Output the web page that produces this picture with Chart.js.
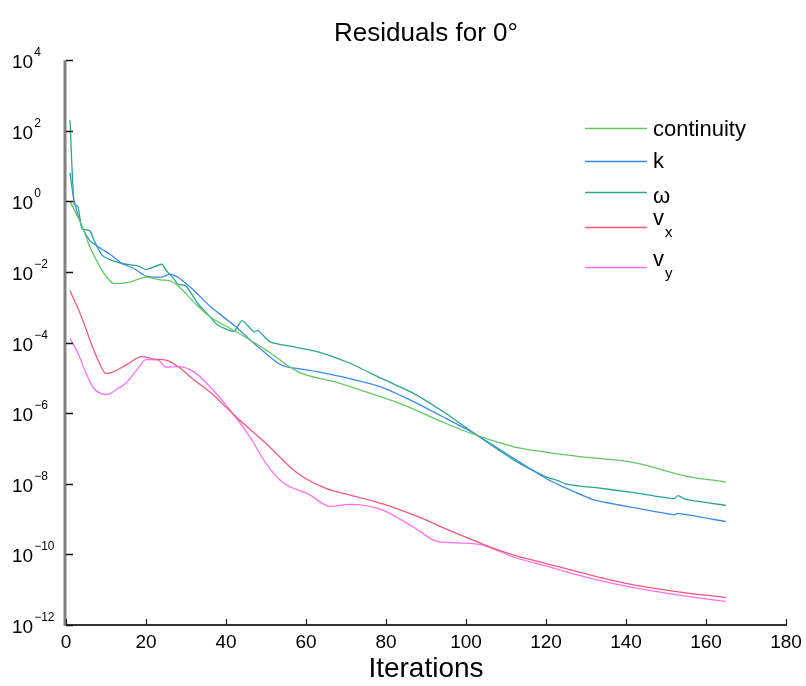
<!DOCTYPE html>
<html>
<head>
<meta charset="utf-8">
<script src="https://cdn.jsdelivr.net/npm/chart.js@4.4.1/dist/chart.umd.min.js"></script>
<style>
  html, body { margin: 0; padding: 0; background: #fff; }
</style>
</head>
<body>
<canvas id="myChart" width="806" height="686"></canvas>
<script>
// residual history (iteration, residual)
var contIter = [1, 4, 6, 8, 10, 12, 16, 20, 24, 26, 33, 36, 42, 50, 58, 67, 75, 84, 95, 102, 112, 120, 128, 142, 155, 165];
var contVals = [1.0, 0.20, 0.051, 0.0178, 0.0076, 0.0047, 0.0052, 0.0072, 0.0059, 0.0056, 1.07e-3, 5.4e-4, 2.2e-4, 6.2e-5, 1.48e-5, 7.8e-6, 4.0e-6, 1.78e-6, 5.1e-7, 2.5e-7, 1.12e-7, 7.9e-8, 6.0e-8, 4.0e-8, 1.66e-8, 1.12e-8];

var kIter = [1, 2, 4, 6, 9, 11, 14, 17, 20, 24, 26, 28, 32, 36, 42, 48, 53, 55, 63, 71, 79, 87, 95, 102, 112, 120, 124, 132, 142, 152, 153, 165];
var kVals = [6.5, 1.07, 0.19, 0.076, 0.044, 0.032, 0.0174, 0.0126, 0.0076, 0.0072, 0.0087, 0.0071, 0.0030, 1.07e-3, 3.1e-4, 7.6e-5, 2.6e-5, 2.1e-5, 1.48e-5, 9.5e-6, 5.4e-6, 2.1e-6, 7.1e-7, 2.7e-7, 5.2e-8, 1.41e-8, 8.5e-9, 3.5e-9, 2.1e-9, 1.32e-9, 1.45e-9, 8.5e-10];

var omegaIter = [1, 2, 3, 4, 6, 7, 9, 11, 14, 18, 20, 24, 25, 27, 28, 30, 33, 36, 38, 42, 44, 47, 48, 51, 56, 63, 71, 79, 87, 95, 102, 112, 120, 123, 125, 129, 132, 142, 152, 153, 155, 165];
var omegaVals = [200, 0.87, 0.71, 0.17, 0.148, 0.079, 0.030, 0.0224, 0.0174, 0.0148, 0.0117, 0.0166, 0.0112, 0.0063, 0.0045, 0.0040, 1.26e-3, 5.4e-4, 3.1e-4, 2.1e-4, 4.2e-4, 2.0e-4, 2.2e-4, 1.05e-4, 7.9e-5, 5.5e-5, 2.6e-5, 9.5e-6, 3.6e-6, 9.8e-7, 2.7e-7, 4.7e-8, 1.58e-8, 1.23e-8, 9.8e-9, 8.5e-9, 7.9e-9, 5.6e-9, 3.8e-9, 4.6e-9, 3.6e-9, 2.45e-9];

var vxIter = [1, 4, 6, 8, 10, 11, 15, 19, 22, 25, 28, 32, 36, 42, 50, 58, 65, 71, 79, 88, 96, 104, 112, 120, 128, 140, 153, 165];
var vxVals = [3.0e-3, 5.0e-4, 1.17e-4, 3.2e-5, 1.35e-5, 1.38e-5, 2.3e-5, 4.0e-5, 3.4e-5, 3.2e-5, 2.1e-5, 8.7e-6, 4.0e-6, 8.9e-7, 1.38e-7, 1.95e-8, 7.4e-9, 4.8e-9, 2.75e-9, 1.17e-9, 4.7e-10, 2.0e-10, 9.5e-11, 5.5e-11, 3.2e-11, 1.51e-11, 8.7e-12, 6.0e-12];

var vyIter = [1, 3, 5, 7, 10, 11, 13, 15, 18, 20, 23, 25, 28, 32, 36, 42, 46, 50, 54, 61, 66, 71, 79, 87, 93, 99, 104, 112, 120, 128, 140, 153, 165];
var vyVals = [1.32e-4, 5.0e-5, 1.35e-5, 5.0e-6, 3.4e-6, 3.6e-6, 5.0e-6, 7.2e-6, 1.86e-5, 3.3e-5, 3.2e-5, 2.0e-5, 2.1e-5, 1.48e-5, 5.6e-6, 8.9e-7, 2.1e-7, 3.8e-8, 1.15e-8, 4.8e-9, 2.3e-9, 2.6e-9, 1.82e-9, 5.8e-10, 2.3e-10, 2.1e-10, 1.86e-10, 8.3e-11, 4.7e-11, 2.6e-11, 1.26e-11, 7.1e-12, 4.6e-12];

var seriesNames = ["continuity", "k", "ω", "vx", "vy"];
var legendBase = ["continuity", "k", "ω", "v", "v"];
var legendSub = ["", "", "", "x", "y"];
var colors = ["#62c962", "#3a8cea", "#2ba68c", "#f2587f", "#ff70ee"];

var xTicks = [0, 20, 40, 60, 80, 100, 120, 140, 160, 180];
var yExponents = [4, 2, 0, -2, -4, -6, -8, -10, -12];

var fontName = '"Liberation Sans", Arial, sans-serif';

function pts(iters, vals) {
  return iters.map(function (it, i) { return { x: it, y: vals[i] }; });
}

var allIters = [contIter, kIter, omegaIter, vxIter, vyIter];
var allVals = [contVals, kVals, omegaVals, vxVals, vyVals];

var datasets = seriesNames.map(function (name, i) {
  return {
    label: name,
    data: pts(allIters[i], allVals[i]),
    borderColor: colors[i],
    backgroundColor: colors[i],
    borderWidth: 1.3,
    pointRadius: 0,
    fill: false,
    cubicInterpolationMode: (i == 1 || i == 2) ? 'default' : 'monotone',
    tension: (i == 1 || i == 2) ? 0.2 : 0
  };
});

// axis lines, inward ticks, 10^n labels and the legend
var residualDecor = {
  id: 'residualDecor',
  afterDraw: function (chart) {
    var ctx = chart.ctx, a = chart.chartArea;
    var xs = chart.scales.x, ys = chart.scales.y;
    ctx.save();

    ctx.strokeStyle = '#808080';
    ctx.lineWidth = 3;
    ctx.beginPath();
    ctx.moveTo(a.left - 1, a.top);
    ctx.lineTo(a.left - 1, a.bottom + 1);
    ctx.stroke();

    ctx.strokeStyle = '#222';
    ctx.lineWidth = 1.2;
    xTicks.forEach(function (t) {
      var px = Math.round(xs.getPixelForValue(t)) + 0.5;
      ctx.beginPath();
      ctx.moveTo(px, a.bottom);
      ctx.lineTo(px, a.bottom - 6);
      ctx.stroke();
    });

    ctx.fillStyle = '#000';
    ctx.textAlign = 'left';
    ctx.textBaseline = 'middle';
    yExponents.forEach(function (e) {
      var py = Math.round(ys.getPixelForValue(Math.pow(10, e))) + 0.5;
      ctx.strokeStyle = '#111';
      ctx.lineWidth = 1.5;
      ctx.beginPath();
      ctx.moveTo(a.left, py);
      ctx.lineTo(a.left + 7, py);
      ctx.stroke();
      ctx.font = '19px ' + fontName;
      ctx.fillText('10', 12, py + 2);
      var w = ctx.measureText('10').width;
      ctx.font = '12px ' + fontName;
      ctx.fillText(e < 0 ? '\u2212' + (-e) : String(e), 12 + w + 1, py - 8);
    });

    var legY = [128, 161, 192, 227, 267];
    var textY = [130, 162, 197, 219, 260];
    legendBase.forEach(function (txt, i) {
      ctx.strokeStyle = colors[i];
      ctx.lineWidth = 1.3;
      ctx.beginPath();
      ctx.moveTo(585, legY[i] + 0.5);
      ctx.lineTo(647, legY[i] + 0.5);
      ctx.stroke();
      ctx.fillStyle = '#000';
      ctx.font = '22px ' + fontName;
      ctx.fillText(txt, 653, textY[i]);
      if (legendSub[i]) {
        var w = ctx.measureText(txt).width;
        ctx.font = '15px ' + fontName;
        ctx.fillText(legendSub[i], 653 + w + 1, textY[i] + 14);
      }
    });
    ctx.restore();
  }
};

new Chart("myChart", {
  type: "line",
  data: { datasets: datasets },
  options: {
    responsive: false,
    animation: false,
    layout: { padding: { left: 66, right: 20, top: 0, bottom: 0 } },
    plugins: {
      legend: { display: false },
      tooltip: { enabled: false },
      title: {
        display: true,
        text: "Residuals for 0°",
        color: '#000',
        font: { family: fontName, size: 26, weight: 'normal' },
        padding: { top: 18, bottom: 11 }
      }
    },
    scales: {
      x: {
        type: 'linear',
        min: 0,
        max: 180,
        afterBuildTicks: function (s) { s.ticks = xTicks.map(function (v) { return { value: v }; }); },
        afterFit: function (s) { s.height = 61; },
        grid: { display: false },
        border: { display: true, color: '#333', width: 2 },
        ticks: { color: '#000', padding: -2, maxRotation: 0, font: { family: fontName, size: 19 } },
        title: {
          display: true,
          text: 'Iterations',
          color: '#000',
          font: { family: fontName, size: 28 },
          padding: { top: 0, bottom: 0 }
        }
      },
      y: {
        type: 'logarithmic',
        min: 1e-12,
        max: 1e4,
        display: false
      }
    }
  },
  plugins: [residualDecor]
});
</script>
</body>
</html>
